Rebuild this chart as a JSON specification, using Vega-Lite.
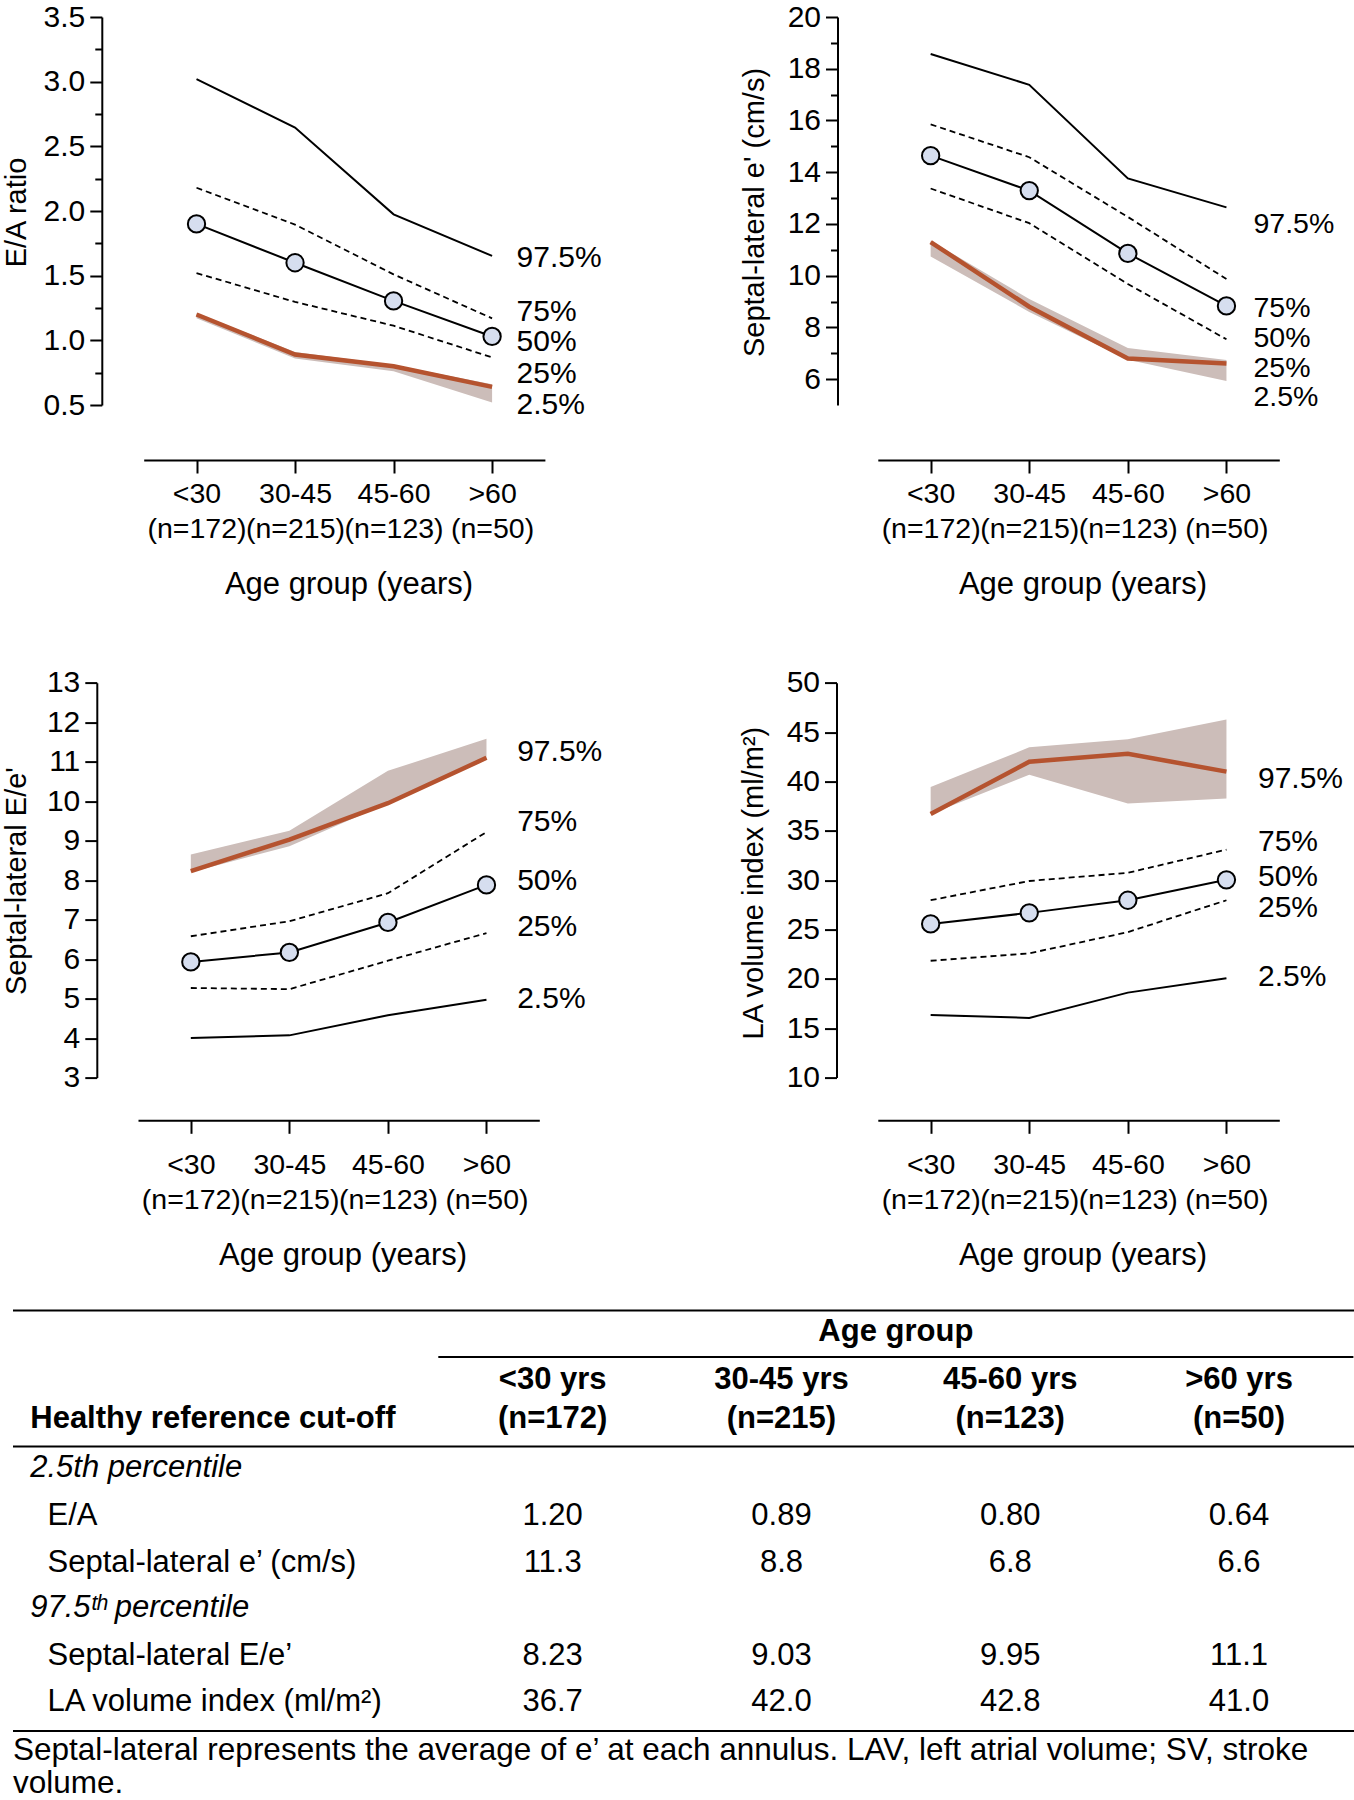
{
  "$schema": "https://vega.github.io/schema/vega-lite/v6.json",
  "usermeta": {"embedOptions": {"actions": false}},
  "padding": {"left": 2, "top": 2, "right": 0, "bottom": 0},
  "background": "white",
  "config": {
    "font": "Liberation Sans",
    "view": {"stroke": null},
    "axis": {"domainColor": "black", "tickColor": "black", "labelColor": "black", "titleColor": "black", "domainWidth": 2, "tickWidth": 2, "labelFont": "Liberation Sans", "titleFont": "Liberation Sans", "labelFontSize": 30, "titleFontSize": 29, "titleFontWeight": "normal", "grid": false},
    "text": {"font": "Liberation Sans", "color": "black"}
  },
  "datasets": {
    "ea": [
      {"age": "<30", "pct": "97.5", "v": 3.02}, {"age": "30-45", "pct": "97.5", "v": 2.645}, {"age": "45-60", "pct": "97.5", "v": 1.974}, {"age": ">60", "pct": "97.5", "v": 1.653},
      {"age": "<30", "pct": "75", "v": 2.18}, {"age": "30-45", "pct": "75", "v": 1.895}, {"age": "45-60", "pct": "75", "v": 1.51}, {"age": ">60", "pct": "75", "v": 1.17},
      {"age": "<30", "pct": "50", "v": 1.9}, {"age": "30-45", "pct": "50", "v": 1.6}, {"age": "45-60", "pct": "50", "v": 1.305}, {"age": ">60", "pct": "50", "v": 1.03},
      {"age": "<30", "pct": "25", "v": 1.52}, {"age": "30-45", "pct": "25", "v": 1.297}, {"age": "45-60", "pct": "25", "v": 1.113}, {"age": ">60", "pct": "25", "v": 0.868},
      {"age": "<30", "pct": "2.5", "v": 1.2}, {"age": "30-45", "pct": "2.5", "v": 0.89}, {"age": "45-60", "pct": "2.5", "v": 0.8}, {"age": ">60", "pct": "2.5", "v": 0.64}
    ],
    "ea_band": [
      {"age": "<30", "lo": 1.17, "hi": 1.21}, {"age": "30-45", "lo": 0.86, "hi": 0.91}, {"age": "45-60", "lo": 0.76, "hi": 0.81}, {"age": ">60", "lo": 0.52, "hi": 0.66}
    ],
    "ea_lab": [
      {"age": ">60", "t": "97.5%", "v": 1.64}, {"age": ">60", "t": "75%", "v": 1.218}, {"age": ">60", "t": "50%", "v": 0.99}, {"age": ">60", "t": "25%", "v": 0.742}, {"age": ">60", "t": "2.5%", "v": 0.503}
    ],
    "ep": [
      {"age": "<30", "pct": "97.5", "v": 18.57}, {"age": "30-45", "pct": "97.5", "v": 17.38}, {"age": "45-60", "pct": "97.5", "v": 13.76}, {"age": ">60", "pct": "97.5", "v": 12.64},
      {"age": "<30", "pct": "75", "v": 15.85}, {"age": "30-45", "pct": "75", "v": 14.58}, {"age": "45-60", "pct": "75", "v": 12.27}, {"age": ">60", "pct": "75", "v": 9.87},
      {"age": "<30", "pct": "50", "v": 14.64}, {"age": "30-45", "pct": "50", "v": 13.29}, {"age": "45-60", "pct": "50", "v": 10.86}, {"age": ">60", "pct": "50", "v": 8.83},
      {"age": "<30", "pct": "25", "v": 13.37}, {"age": "30-45", "pct": "25", "v": 12.03}, {"age": "45-60", "pct": "25", "v": 9.68}, {"age": ">60", "pct": "25", "v": 7.54},
      {"age": "<30", "pct": "2.5", "v": 11.3}, {"age": "30-45", "pct": "2.5", "v": 8.8}, {"age": "45-60", "pct": "2.5", "v": 6.8}, {"age": ">60", "pct": "2.5", "v": 6.6}
    ],
    "ep_band": [
      {"age": "<30", "lo": 10.74, "hi": 11.35}, {"age": "30-45", "lo": 8.6, "hi": 9.1}, {"age": "45-60", "lo": 6.75, "hi": 7.2}, {"age": ">60", "lo": 5.93, "hi": 6.74}
    ],
    "ep_lab": [
      {"age": ">60", "t": "97.5%", "v": 12.01}, {"age": ">60", "t": "75%", "v": 8.74}, {"age": ">60", "t": "50%", "v": 7.6}, {"age": ">60", "t": "25%", "v": 6.44}, {"age": ">60", "t": "2.5%", "v": 5.29}
    ],
    "ee": [
      {"age": "<30", "pct": "97.5", "v": 8.23}, {"age": "30-45", "pct": "97.5", "v": 9.03}, {"age": "45-60", "pct": "97.5", "v": 9.95}, {"age": ">60", "pct": "97.5", "v": 11.1},
      {"age": "<30", "pct": "75", "v": 6.58}, {"age": "30-45", "pct": "75", "v": 6.96}, {"age": "45-60", "pct": "75", "v": 7.67}, {"age": ">60", "pct": "75", "v": 9.22},
      {"age": "<30", "pct": "50", "v": 5.93}, {"age": "30-45", "pct": "50", "v": 6.17}, {"age": "45-60", "pct": "50", "v": 6.93}, {"age": ">60", "pct": "50", "v": 7.88},
      {"age": "<30", "pct": "25", "v": 5.27}, {"age": "30-45", "pct": "25", "v": 5.24}, {"age": "45-60", "pct": "25", "v": 5.96}, {"age": ">60", "pct": "25", "v": 6.66},
      {"age": "<30", "pct": "2.5", "v": 4.0}, {"age": "30-45", "pct": "2.5", "v": 4.07}, {"age": "45-60", "pct": "2.5", "v": 4.58}, {"age": ">60", "pct": "2.5", "v": 4.97}
    ],
    "ee_band": [
      {"age": "<30", "lo": 8.2, "hi": 8.65}, {"age": "30-45", "lo": 8.86, "hi": 9.25}, {"age": "45-60", "lo": 9.95, "hi": 10.77}, {"age": ">60", "lo": 11.05, "hi": 11.58}
    ],
    "ee_lab": [
      {"age": ">60", "t": "97.5%", "v": 11.24}, {"age": ">60", "t": "75%", "v": 9.48}, {"age": ">60", "t": "50%", "v": 7.98}, {"age": ">60", "t": "25%", "v": 6.82}, {"age": ">60", "t": "2.5%", "v": 4.98}
    ],
    "la": [
      {"age": "<30", "pct": "97.5", "v": 36.7}, {"age": "30-45", "pct": "97.5", "v": 42.0}, {"age": "45-60", "pct": "97.5", "v": 42.8}, {"age": ">60", "pct": "97.5", "v": 41.0},
      {"age": "<30", "pct": "75", "v": 27.97}, {"age": "30-45", "pct": "75", "v": 29.92}, {"age": "45-60", "pct": "75", "v": 30.75}, {"age": ">60", "pct": "75", "v": 33.1},
      {"age": "<30", "pct": "50", "v": 25.57}, {"age": "30-45", "pct": "50", "v": 26.69}, {"age": "45-60", "pct": "50", "v": 27.97}, {"age": ">60", "pct": "50", "v": 30.04},
      {"age": "<30", "pct": "25", "v": 21.84}, {"age": "30-45", "pct": "25", "v": 22.59}, {"age": "45-60", "pct": "25", "v": 24.74}, {"age": ">60", "pct": "25", "v": 27.97},
      {"age": "<30", "pct": "2.5", "v": 16.34}, {"age": "30-45", "pct": "2.5", "v": 16.05}, {"age": "45-60", "pct": "2.5", "v": 18.61}, {"age": ">60", "pct": "2.5", "v": 20.06}
    ],
    "la_band": [
      {"age": "<30", "lo": 36.7, "hi": 39.44}, {"age": "30-45", "lo": 40.68, "hi": 43.46}, {"age": "45-60", "lo": 37.78, "hi": 44.29}, {"age": ">60", "lo": 38.28, "hi": 46.27}
    ],
    "la_lab": [
      {"age": ">60", "t": "97.5%", "v": 40.27}, {"age": ">60", "t": "75%", "v": 33.85}, {"age": ">60", "t": "50%", "v": 30.33}, {"age": ">60", "t": "25%", "v": 27.23}, {"age": ">60", "t": "2.5%", "v": 20.19}
    ],
    "tcells": [
      {"row": "H1", "col": "<30 yrs", "text": "<30 yrs", "kind": "h1"}, {"row": "H1", "col": "30-45 yrs", "text": "30-45 yrs", "kind": "h1"}, {"row": "H1", "col": "45-60 yrs", "text": "45-60 yrs", "kind": "h1"}, {"row": "H1", "col": ">60 yrs", "text": ">60 yrs", "kind": "h1"},
      {"row": "H2", "col": "<30 yrs", "text": "(n=172)", "kind": "h2"}, {"row": "H2", "col": "30-45 yrs", "text": "(n=215)", "kind": "h2"}, {"row": "H2", "col": "45-60 yrs", "text": "(n=123)", "kind": "h2"}, {"row": "H2", "col": ">60 yrs", "text": "(n=50)", "kind": "h2"},
      {"row": "EA", "col": "<30 yrs", "text": "1.20", "kind": "val"}, {"row": "EA", "col": "30-45 yrs", "text": "0.89", "kind": "val"}, {"row": "EA", "col": "45-60 yrs", "text": "0.80", "kind": "val"}, {"row": "EA", "col": ">60 yrs", "text": "0.64", "kind": "val"},
      {"row": "E", "col": "<30 yrs", "text": "11.3", "kind": "val"}, {"row": "E", "col": "30-45 yrs", "text": "8.8", "kind": "val"}, {"row": "E", "col": "45-60 yrs", "text": "6.8", "kind": "val"}, {"row": "E", "col": ">60 yrs", "text": "6.6", "kind": "val"},
      {"row": "EE", "col": "<30 yrs", "text": "8.23", "kind": "val"}, {"row": "EE", "col": "30-45 yrs", "text": "9.03", "kind": "val"}, {"row": "EE", "col": "45-60 yrs", "text": "9.95", "kind": "val"}, {"row": "EE", "col": ">60 yrs", "text": "11.1", "kind": "val"},
      {"row": "LAVI", "col": "<30 yrs", "text": "36.7", "kind": "val"}, {"row": "LAVI", "col": "30-45 yrs", "text": "42.0", "kind": "val"}, {"row": "LAVI", "col": "45-60 yrs", "text": "42.8", "kind": "val"}, {"row": "LAVI", "col": ">60 yrs", "text": "41.0", "kind": "val"}
    ],
    "tlabels": [
      {"row": "H2", "ind": "head", "text": "Healthy reference cut-off", "sty": "bold"},
      {"row": "P25", "ind": "head", "text": "2.5th percentile", "sty": "italic"},
      {"row": "EA", "ind": "item", "text": "E/A", "sty": "plain"},
      {"row": "E", "ind": "item", "text": "Septal-lateral e’ (cm/s)", "sty": "plain"},
      {"row": "P975", "ind": "head", "text": "97.5ᵗʰ percentile", "sty": "italic"},
      {"row": "EE", "ind": "item", "text": "Septal-lateral E/e’", "sty": "plain"},
      {"row": "LAVI", "ind": "item", "text": "LA volume index (ml/m²)", "sty": "plain"},
      {"row": "F1", "ind": "foot", "text": "Septal-lateral represents the average of e’ at each annulus. LAV, left atrial volume; SV, stroke", "sty": "foot1"},
      {"row": "F2", "ind": "foot", "text": "volume.", "sty": "foot2"}
    ],
    "trules": [
      {"row": "AG", "pos": "top"}, {"row": "P25", "pos": "mid"}, {"row": "F1", "pos": "bottom"}, {"row": "H1", "pos": "cols"}
    ],
    "ttitle": [{"row": "AG", "text": "Age group"}]
  },
  "vconcat": [
    {
      "hconcat": [
        {
          "width": 664, "height": 388,
          "encoding": {"x": {"field": "age", "type": "ordinal", "scale": {"type": "point", "domain": ["<30", "30-45", "45-60", ">60"], "range": [130.7, 531.9], "padding": 0.536},
            "axis": {"title": "Age group (years)", "labelExpr": "[datum.label, datum.label == '<30' ? '(n=172)' : datum.label == '30-45' ? '(n=215)' : datum.label == '45-60' ? '(n=123)' : '(n=50)']", "offset": 55, "tickSize": 13, "labelPadding": 6.4, "labelLineHeight": 35, "labelFontSize": 28.5, "labelAngle": 0, "labelOverlap": false, "titleFontSize": 31, "titleX": 335.5, "titleY": 133.9, "titleBaseline": "alphabetic", "titleAlign": "center"}}},
          "layer": [
            {"data": {"name": "ea_band"}, "mark": {"type": "area", "color": "#ccbdb9", "opacity": 1},
              "encoding": {"y": {"field": "lo", "type": "quantitative", "scale": {"domain": [0.5, 3.5], "nice": false, "zero": false}, "axis": {"orient": "left", "values": [0.75, 1.25, 1.75, 2.25, 2.75, 3.25], "labels": false, "domain": false, "tickSize": 7, "offset": -88.8, "title": null}}, "y2": {"field": "hi"}}},
            {"data": {"name": "ea"}, "transform": [{"filter": "datum.pct == '97.5'"}], "mark": {"type": "line", "color": "black", "strokeWidth": 2},
              "encoding": {"y": {"field": "v", "type": "quantitative", "scale": {"domain": [0.5, 3.5], "nice": false, "zero": false}, "axis": {"orient": "left", "values": [0.5, 1, 1.5, 2, 2.5, 3, 3.5], "format": ".1f", "tickSize": 12, "labelPadding": 5, "offset": -88.8, "title": "E/A ratio", "titleX": -76.5, "titleY": 195, "titleAngle": 270, "titleBaseline": "alphabetic", "titleAlign": "center"}}}},
            {"data": {"name": "ea"}, "transform": [{"filter": "datum.pct == '75' || datum.pct == '25'"}], "mark": {"type": "line", "color": "black", "strokeWidth": 1.8, "strokeDash": [6, 4]},
              "encoding": {"y": {"field": "v", "type": "quantitative", "scale": {"domain": [0.5, 3.5], "nice": false, "zero": false}, "axis": null}, "detail": {"field": "pct", "type": "nominal"}}},
            {"data": {"name": "ea"}, "transform": [{"filter": "datum.pct == '2.5'"}], "mark": {"type": "line", "color": "#b5532f", "strokeWidth": 4.5},
              "encoding": {"y": {"field": "v", "type": "quantitative", "scale": {"domain": [0.5, 3.5], "nice": false, "zero": false}, "axis": null}}},
            {"data": {"name": "ea"}, "transform": [{"filter": "datum.pct == '50'"}], "mark": {"type": "line", "color": "black", "strokeWidth": 2},
              "encoding": {"y": {"field": "v", "type": "quantitative", "scale": {"domain": [0.5, 3.5], "nice": false, "zero": false}, "axis": null}}},
            {"data": {"name": "ea"}, "transform": [{"filter": "datum.pct == '50'"}], "mark": {"type": "point", "filled": true, "fill": "#d6deef", "stroke": "black", "strokeWidth": 2, "size": 300, "opacity": 1},
              "encoding": {"y": {"field": "v", "type": "quantitative", "scale": {"domain": [0.5, 3.5], "nice": false, "zero": false}, "axis": null}}},
            {"data": {"name": "ea_lab"}, "mark": {"type": "text", "align": "left", "baseline": "middle", "dx": 24.5, "fontSize": 30},
              "encoding": {"y": {"field": "v", "type": "quantitative", "scale": {"domain": [0.5, 3.5], "nice": false, "zero": false}, "axis": null}, "text": {"field": "t"}}}
          ],
          "resolve": {"axis": {"y": "independent"}}
        },
        {
          "width": 677, "height": 388,
          "encoding": {"x": {"field": "age", "type": "ordinal", "scale": {"type": "point", "domain": ["<30", "30-45", "45-60", ">60"], "range": [200.8, 602.3], "padding": 0.536},
            "axis": {"title": "Age group (years)", "labelExpr": "[datum.label, datum.label == '<30' ? '(n=172)' : datum.label == '30-45' ? '(n=215)' : datum.label == '45-60' ? '(n=123)' : '(n=50)']", "offset": 55, "tickSize": 13, "labelPadding": 6.4, "labelLineHeight": 35, "labelFontSize": 28.5, "labelAngle": 0, "labelOverlap": false, "titleFontSize": 31, "titleX": 405.5, "titleY": 133.9, "titleBaseline": "alphabetic", "titleAlign": "center"}}},
          "layer": [
            {"data": {"name": "ep_band"}, "mark": {"type": "area", "color": "#ccbdb9", "opacity": 1},
              "encoding": {"y": {"field": "lo", "type": "quantitative", "scale": {"domain": [5, 20], "nice": false, "zero": false}, "axis": {"orient": "left", "values": [7, 9, 11, 13, 15, 17, 19], "labels": false, "domain": false, "tickSize": 7, "offset": -160.5, "title": null}}, "y2": {"field": "hi"}}},
            {"data": {"name": "ep"}, "transform": [{"filter": "datum.pct == '97.5'"}], "mark": {"type": "line", "color": "black", "strokeWidth": 2},
              "encoding": {"y": {"field": "v", "type": "quantitative", "scale": {"domain": [5, 20], "nice": false, "zero": false}, "axis": {"orient": "left", "values": [6, 8, 10, 12, 14, 16, 18, 20], "format": "d", "tickSize": 12, "labelPadding": 5, "offset": -160.5, "title": "Septal-lateral e' (cm/s)", "titleX": -74.5, "titleY": 195, "titleAngle": 270, "titleBaseline": "alphabetic", "titleAlign": "center"}}}},
            {"data": {"name": "ep"}, "transform": [{"filter": "datum.pct == '75' || datum.pct == '25'"}], "mark": {"type": "line", "color": "black", "strokeWidth": 1.8, "strokeDash": [6, 4]},
              "encoding": {"y": {"field": "v", "type": "quantitative", "scale": {"domain": [5, 20], "nice": false, "zero": false}, "axis": null}, "detail": {"field": "pct", "type": "nominal"}}},
            {"data": {"name": "ep"}, "transform": [{"filter": "datum.pct == '2.5'"}], "mark": {"type": "line", "color": "#b5532f", "strokeWidth": 4.5},
              "encoding": {"y": {"field": "v", "type": "quantitative", "scale": {"domain": [5, 20], "nice": false, "zero": false}, "axis": null}}},
            {"data": {"name": "ep"}, "transform": [{"filter": "datum.pct == '50'"}], "mark": {"type": "line", "color": "black", "strokeWidth": 2},
              "encoding": {"y": {"field": "v", "type": "quantitative", "scale": {"domain": [5, 20], "nice": false, "zero": false}, "axis": null}}},
            {"data": {"name": "ep"}, "transform": [{"filter": "datum.pct == '50'"}], "mark": {"type": "point", "filled": true, "fill": "#d6deef", "stroke": "black", "strokeWidth": 2, "size": 300, "opacity": 1},
              "encoding": {"y": {"field": "v", "type": "quantitative", "scale": {"domain": [5, 20], "nice": false, "zero": false}, "axis": null}}},
            {"data": {"name": "ep_lab"}, "mark": {"type": "text", "align": "left", "baseline": "middle", "dx": 27, "fontSize": 28.5},
              "encoding": {"y": {"field": "v", "type": "quantitative", "scale": {"domain": [5, 20], "nice": false, "zero": false}, "axis": null}, "text": {"field": "t"}}}
          ],
          "resolve": {"axis": {"y": "independent"}}
        }
      ],
      "spacing": 0,
      "bounds": "flush"
    },
    {
      "hconcat": [
        {
          "width": 664, "height": 442,
          "encoding": {"x": {"field": "age", "type": "ordinal", "scale": {"type": "point", "domain": ["<30", "30-45", "45-60", ">60"], "range": [125, 526.3], "padding": 0.536},
            "axis": {"title": "Age group (years)", "labelExpr": "[datum.label, datum.label == '<30' ? '(n=172)' : datum.label == '30-45' ? '(n=215)' : datum.label == '45-60' ? '(n=123)' : '(n=50)']", "offset": 42.7, "tickSize": 13, "labelPadding": 17, "labelLineHeight": 35, "labelFontSize": 28.5, "labelAngle": 0, "labelOverlap": false, "titleFontSize": 31, "titleX": 329.6, "titleY": 144.6, "titleBaseline": "alphabetic", "titleAlign": "center"}}},
          "layer": [
            {"data": {"name": "ee_band"}, "mark": {"type": "area", "color": "#ccbdb9", "opacity": 1},
              "encoding": {"y": {"field": "lo", "type": "quantitative", "scale": {"domain": [3, 13], "range": [442, 47.2], "nice": false, "zero": false}, "axis": {"orient": "left", "values": [3, 4, 5, 6, 7, 8, 9, 10, 11, 12, 13], "format": "d", "tickSize": 12, "labelPadding": 5, "offset": -83.8, "title": "Septal-lateral E/e'", "titleX": -71.5, "titleY": 245, "titleAngle": 270, "titleBaseline": "alphabetic", "titleAlign": "center"}}, "y2": {"field": "hi"}}},
            {"data": {"name": "ee"}, "transform": [{"filter": "datum.pct == '2.5'"}], "mark": {"type": "line", "color": "black", "strokeWidth": 2},
              "encoding": {"y": {"field": "v", "type": "quantitative", "scale": {"domain": [3, 13], "range": [442, 47.2], "nice": false, "zero": false}, "axis": null}}},
            {"data": {"name": "ee"}, "transform": [{"filter": "datum.pct == '75' || datum.pct == '25'"}], "mark": {"type": "line", "color": "black", "strokeWidth": 1.8, "strokeDash": [6, 4]},
              "encoding": {"y": {"field": "v", "type": "quantitative", "scale": {"domain": [3, 13], "range": [442, 47.2], "nice": false, "zero": false}, "axis": null}, "detail": {"field": "pct", "type": "nominal"}}},
            {"data": {"name": "ee"}, "transform": [{"filter": "datum.pct == '97.5'"}], "mark": {"type": "line", "color": "#b5532f", "strokeWidth": 4.5},
              "encoding": {"y": {"field": "v", "type": "quantitative", "scale": {"domain": [3, 13], "range": [442, 47.2], "nice": false, "zero": false}, "axis": null}}},
            {"data": {"name": "ee"}, "transform": [{"filter": "datum.pct == '50'"}], "mark": {"type": "line", "color": "black", "strokeWidth": 2},
              "encoding": {"y": {"field": "v", "type": "quantitative", "scale": {"domain": [3, 13], "range": [442, 47.2], "nice": false, "zero": false}, "axis": null}}},
            {"data": {"name": "ee"}, "transform": [{"filter": "datum.pct == '50'"}], "mark": {"type": "point", "filled": true, "fill": "#d6deef", "stroke": "black", "strokeWidth": 2, "size": 300, "opacity": 1},
              "encoding": {"y": {"field": "v", "type": "quantitative", "scale": {"domain": [3, 13], "range": [442, 47.2], "nice": false, "zero": false}, "axis": null}}},
            {"data": {"name": "ee_lab"}, "mark": {"type": "text", "align": "left", "baseline": "middle", "dx": 30.7, "fontSize": 30},
              "encoding": {"y": {"field": "v", "type": "quantitative", "scale": {"domain": [3, 13], "range": [442, 47.2], "nice": false, "zero": false}, "axis": null}, "text": {"field": "t"}}}
          ],
          "resolve": {"axis": {"y": "independent"}}
        },
        {
          "width": 677, "height": 442,
          "encoding": {"x": {"field": "age", "type": "ordinal", "scale": {"type": "point", "domain": ["<30", "30-45", "45-60", ">60"], "range": [200.8, 602.3], "padding": 0.536},
            "axis": {"title": "Age group (years)", "labelExpr": "[datum.label, datum.label == '<30' ? '(n=172)' : datum.label == '30-45' ? '(n=215)' : datum.label == '45-60' ? '(n=123)' : '(n=50)']", "offset": 42.7, "tickSize": 13, "labelPadding": 17, "labelLineHeight": 35, "labelFontSize": 28.5, "labelAngle": 0, "labelOverlap": false, "titleFontSize": 31, "titleX": 405.5, "titleY": 144.6, "titleBaseline": "alphabetic", "titleAlign": "center"}}},
          "layer": [
            {"data": {"name": "la_band"}, "mark": {"type": "area", "color": "#ccbdb9", "opacity": 1},
              "encoding": {"y": {"field": "lo", "type": "quantitative", "scale": {"domain": [10, 50], "range": [442, 47.2], "nice": false, "zero": false}, "axis": {"orient": "left", "values": [10, 15, 20, 25, 30, 35, 40, 45, 50], "format": "d", "tickSize": 12, "labelPadding": 5, "offset": -159.5, "title": "LA volume index (ml/m²)", "titleX": -74.5, "titleY": 247, "titleAngle": 270, "titleBaseline": "alphabetic", "titleAlign": "center"}}, "y2": {"field": "hi"}}},
            {"data": {"name": "la"}, "transform": [{"filter": "datum.pct == '2.5'"}], "mark": {"type": "line", "color": "black", "strokeWidth": 2},
              "encoding": {"y": {"field": "v", "type": "quantitative", "scale": {"domain": [10, 50], "range": [442, 47.2], "nice": false, "zero": false}, "axis": null}}},
            {"data": {"name": "la"}, "transform": [{"filter": "datum.pct == '75' || datum.pct == '25'"}], "mark": {"type": "line", "color": "black", "strokeWidth": 1.8, "strokeDash": [6, 4]},
              "encoding": {"y": {"field": "v", "type": "quantitative", "scale": {"domain": [10, 50], "range": [442, 47.2], "nice": false, "zero": false}, "axis": null}, "detail": {"field": "pct", "type": "nominal"}}},
            {"data": {"name": "la"}, "transform": [{"filter": "datum.pct == '97.5'"}], "mark": {"type": "line", "color": "#b5532f", "strokeWidth": 4.5},
              "encoding": {"y": {"field": "v", "type": "quantitative", "scale": {"domain": [10, 50], "range": [442, 47.2], "nice": false, "zero": false}, "axis": null}}},
            {"data": {"name": "la"}, "transform": [{"filter": "datum.pct == '50'"}], "mark": {"type": "line", "color": "black", "strokeWidth": 2},
              "encoding": {"y": {"field": "v", "type": "quantitative", "scale": {"domain": [10, 50], "range": [442, 47.2], "nice": false, "zero": false}, "axis": null}}},
            {"data": {"name": "la"}, "transform": [{"filter": "datum.pct == '50'"}], "mark": {"type": "point", "filled": true, "fill": "#d6deef", "stroke": "black", "strokeWidth": 2, "size": 300, "opacity": 1},
              "encoding": {"y": {"field": "v", "type": "quantitative", "scale": {"domain": [10, 50], "range": [442, 47.2], "nice": false, "zero": false}, "axis": null}}},
            {"data": {"name": "la_lab"}, "mark": {"type": "text", "align": "left", "baseline": "middle", "dx": 31.5, "fontSize": 30},
              "encoding": {"y": {"field": "v", "type": "quantitative", "scale": {"domain": [10, 50], "range": [442, 47.2], "nice": false, "zero": false}, "axis": null}, "text": {"field": "t"}}}
          ],
          "resolve": {"axis": {"y": "independent"}}
        }
      ],
      "spacing": 0,
      "bounds": "flush"
    },
    {
      "width": 1341, "height": 511,
      "layer": [
        {"data": {"name": "trules"}, "transform": [{"filter": "datum.pos == 'top'"}], "mark": {"type": "rule", "color": "black", "strokeWidth": 2},
          "encoding": {"y": {"field": "row", "type": "ordinal", "bandPosition": 0.073, "scale": {"type": "band", "domain": ["AG", "H1", "H2", "P25", "EA", "E", "P975", "EE", "LAVI", "F1", "F2"], "paddingInner": 0, "paddingOuter": 0}, "axis": null}}},
        {"data": {"name": "trules"}, "transform": [{"filter": "datum.pos == 'mid'"}], "mark": {"type": "rule", "color": "black", "strokeWidth": 2},
          "encoding": {"y": {"field": "row", "type": "ordinal", "bandPosition": 0, "scale": {"type": "band", "domain": ["AG", "H1", "H2", "P25", "EA", "E", "P975", "EE", "LAVI", "F1", "F2"], "paddingInner": 0, "paddingOuter": 0}, "axis": null}}},
        {"data": {"name": "trules"}, "transform": [{"filter": "datum.pos == 'bottom'"}], "mark": {"type": "rule", "color": "black", "strokeWidth": 2},
          "encoding": {"y": {"field": "row", "type": "ordinal", "bandPosition": 0.123, "scale": {"type": "band", "domain": ["AG", "H1", "H2", "P25", "EA", "E", "P975", "EE", "LAVI", "F1", "F2"], "paddingInner": 0, "paddingOuter": 0}, "axis": null}}},
        {"data": {"name": "trules"}, "transform": [{"filter": "datum.pos == 'cols'"}], "mark": {"type": "rule", "color": "black", "strokeWidth": 2},
          "encoding": {
            "y": {"field": "row", "type": "ordinal", "bandPosition": 0.073, "scale": {"type": "band", "domain": ["AG", "H1", "H2", "P25", "EA", "E", "P975", "EE", "LAVI", "F1", "F2"], "paddingInner": 0, "paddingOuter": 0}, "axis": null},
            "x": {"datum": "<30 yrs", "type": "ordinal", "bandPosition": 0, "scale": {"type": "band", "domain": ["<30 yrs", "30-45 yrs", "45-60 yrs", ">60 yrs"], "range": [425.3, 1340.4], "paddingInner": 0, "paddingOuter": 0}, "axis": null},
            "x2": {"datum": ">60 yrs", "bandPosition": 1}}},
        {"data": {"name": "ttitle"}, "mark": {"type": "text", "align": "center", "baseline": "middle", "fontSize": 31, "fontWeight": "bold"},
          "encoding": {
            "y": {"field": "row", "type": "ordinal", "bandPosition": 0.524, "scale": {"type": "band", "domain": ["AG", "H1", "H2", "P25", "EA", "E", "P975", "EE", "LAVI", "F1", "F2"], "paddingInner": 0, "paddingOuter": 0}, "axis": null},
            "x": {"datum": "45-60 yrs", "type": "ordinal", "bandPosition": 0, "scale": {"type": "band", "domain": ["<30 yrs", "30-45 yrs", "45-60 yrs", ">60 yrs"], "range": [425.3, 1340.4], "paddingInner": 0, "paddingOuter": 0}, "axis": null},
            "text": {"field": "text"}}},
        {"data": {"name": "tcells"}, "transform": [{"filter": "datum.kind == 'h1'"}], "mark": {"type": "text", "align": "center", "baseline": "middle", "fontSize": 31, "fontWeight": "bold"},
          "encoding": {
            "y": {"field": "row", "type": "ordinal", "bandPosition": 0.573, "scale": {"type": "band", "domain": ["AG", "H1", "H2", "P25", "EA", "E", "P975", "EE", "LAVI", "F1", "F2"], "paddingInner": 0, "paddingOuter": 0}, "axis": null},
            "x": {"field": "col", "type": "ordinal", "bandPosition": 0.5, "scale": {"type": "band", "domain": ["<30 yrs", "30-45 yrs", "45-60 yrs", ">60 yrs"], "range": [425.3, 1340.4], "paddingInner": 0, "paddingOuter": 0}, "axis": null},
            "text": {"field": "text"}}},
        {"data": {"name": "tcells"}, "transform": [{"filter": "datum.kind == 'h2'"}], "mark": {"type": "text", "align": "center", "baseline": "middle", "fontSize": 31, "fontWeight": "bold"},
          "encoding": {
            "y": {"field": "row", "type": "ordinal", "bandPosition": 0.4, "scale": {"type": "band", "domain": ["AG", "H1", "H2", "P25", "EA", "E", "P975", "EE", "LAVI", "F1", "F2"], "paddingInner": 0, "paddingOuter": 0}, "axis": null},
            "x": {"field": "col", "type": "ordinal", "bandPosition": 0.5, "scale": {"type": "band", "domain": ["<30 yrs", "30-45 yrs", "45-60 yrs", ">60 yrs"], "range": [425.3, 1340.4], "paddingInner": 0, "paddingOuter": 0}, "axis": null},
            "text": {"field": "text"}}},
        {"data": {"name": "tcells"}, "transform": [{"filter": "datum.kind == 'val'"}], "mark": {"type": "text", "align": "center", "baseline": "middle", "fontSize": 31},
          "encoding": {
            "y": {"field": "row", "type": "ordinal", "bandPosition": 0.5, "scale": {"type": "band", "domain": ["AG", "H1", "H2", "P25", "EA", "E", "P975", "EE", "LAVI", "F1", "F2"], "paddingInner": 0, "paddingOuter": 0}, "axis": null},
            "x": {"field": "col", "type": "ordinal", "bandPosition": 0.5, "scale": {"type": "band", "domain": ["<30 yrs", "30-45 yrs", "45-60 yrs", ">60 yrs"], "range": [425.3, 1340.4], "paddingInner": 0, "paddingOuter": 0}, "axis": null},
            "text": {"field": "text"}}},
        {"data": {"name": "tlabels"}, "transform": [{"filter": "datum.sty == 'bold'"}], "mark": {"type": "text", "align": "left", "baseline": "middle", "fontSize": 31, "fontWeight": "bold"},
          "encoding": {
            "y": {"field": "row", "type": "ordinal", "bandPosition": 0.4, "scale": {"type": "band", "domain": ["AG", "H1", "H2", "P25", "EA", "E", "P975", "EE", "LAVI", "F1", "F2"], "paddingInner": 0, "paddingOuter": 0}, "axis": null},
            "x": {"field": "ind", "type": "ordinal", "scale": {"type": "point", "domain": ["foot", "head", "item"], "range": [0, 34.5], "padding": 0}, "axis": null},
            "text": {"field": "text"}}},
        {"data": {"name": "tlabels"}, "transform": [{"filter": "datum.sty == 'italic'"}], "mark": {"type": "text", "align": "left", "baseline": "middle", "fontSize": 31, "fontStyle": "italic"},
          "encoding": {
            "y": {"field": "row", "type": "ordinal", "bandPosition": 0.47, "scale": {"type": "band", "domain": ["AG", "H1", "H2", "P25", "EA", "E", "P975", "EE", "LAVI", "F1", "F2"], "paddingInner": 0, "paddingOuter": 0}, "axis": null},
            "x": {"field": "ind", "type": "ordinal", "scale": {"type": "point", "domain": ["foot", "head", "item"], "range": [0, 34.5], "padding": 0}, "axis": null},
            "text": {"field": "text"}}},
        {"data": {"name": "tlabels"}, "transform": [{"filter": "datum.sty == 'plain'"}], "mark": {"type": "text", "align": "left", "baseline": "middle", "fontSize": 31},
          "encoding": {
            "y": {"field": "row", "type": "ordinal", "bandPosition": 0.5, "scale": {"type": "band", "domain": ["AG", "H1", "H2", "P25", "EA", "E", "P975", "EE", "LAVI", "F1", "F2"], "paddingInner": 0, "paddingOuter": 0}, "axis": null},
            "x": {"field": "ind", "type": "ordinal", "scale": {"type": "point", "domain": ["foot", "head", "item"], "range": [0, 34.5], "padding": 0}, "axis": null},
            "text": {"field": "text"}}},
        {"data": {"name": "tlabels"}, "transform": [{"filter": "datum.sty == 'foot1'"}], "mark": {"type": "text", "align": "left", "baseline": "middle", "fontSize": 31.5},
          "encoding": {
            "y": {"field": "row", "type": "ordinal", "bandPosition": 0.55, "scale": {"type": "band", "domain": ["AG", "H1", "H2", "P25", "EA", "E", "P975", "EE", "LAVI", "F1", "F2"], "paddingInner": 0, "paddingOuter": 0}, "axis": null},
            "x": {"field": "ind", "type": "ordinal", "scale": {"type": "point", "domain": ["foot", "head", "item"], "range": [0, 34.5], "padding": 0}, "axis": null},
            "text": {"field": "text"}}},
        {"data": {"name": "tlabels"}, "transform": [{"filter": "datum.sty == 'foot2'"}], "mark": {"type": "text", "align": "left", "baseline": "middle", "fontSize": 31.5},
          "encoding": {
            "y": {"field": "row", "type": "ordinal", "bandPosition": 0.26, "scale": {"type": "band", "domain": ["AG", "H1", "H2", "P25", "EA", "E", "P975", "EE", "LAVI", "F1", "F2"], "paddingInner": 0, "paddingOuter": 0}, "axis": null},
            "x": {"field": "ind", "type": "ordinal", "scale": {"type": "point", "domain": ["foot", "head", "item"], "range": [0, 34.5], "padding": 0}, "axis": null},
            "text": {"field": "text"}}}
      ],
      "resolve": {"scale": {"x": "independent"}}
    }
  ],
  "spacing": 35.6,
  "bounds": "full"
}
